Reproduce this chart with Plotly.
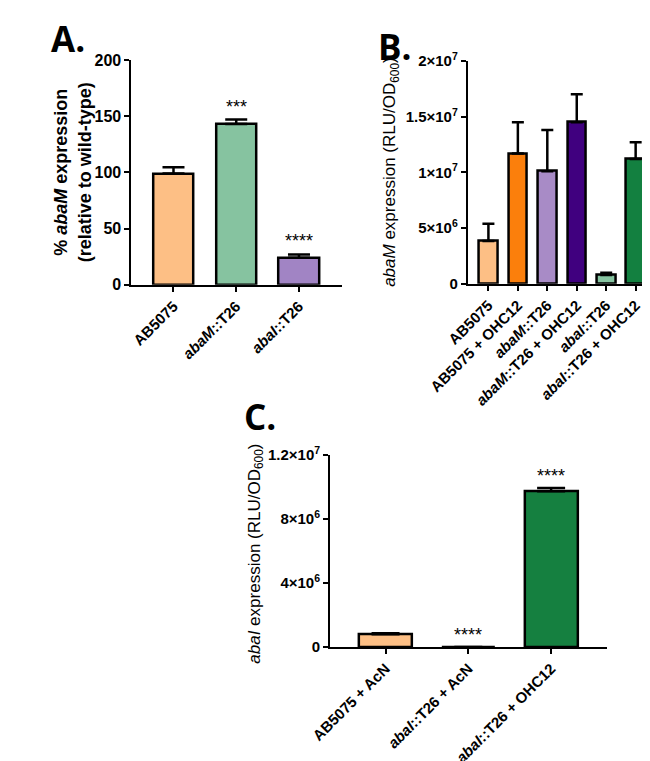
import plotly.graph_objects as go

# ---------------- data ----------------
a_categories = ["AB5075", "abaM::T26", "abaI::T26"]
a_labels = ["AB5075", "<i>abaM</i>::T26", "<i>abaI</i>::T26"]
a_values = [99, 143, 24]
a_errors = [5.5, 4, 3]
a_sig = ["", "***", "****"]
a_colors = ["#FDBF85", "#86C3A0", "#A184C4"]
a_yticks = [0, 50, 100, 150, 200]
a_yticktext = ["0", "50", "100", "150", "200"]

b_categories = ["AB5075", "AB5075 + OHC12", "abaM::T26", "abaM::T26 + OHC12",
                "abaI::T26", "abaI::T26 + OHC12"]
b_labels = ["AB5075", "AB5075 + OHC12", "<i>abaM</i>::T26", "<i>abaM</i>::T26 + OHC12",
            "<i>abaI</i>::T26", "<i>abaI</i>::T26 + OHC12"]
b_values = [3.85e6, 11.7e6, 10.1e6, 14.5e6, 0.8e6, 11.2e6]
b_errors = [1.55e6, 2.8e6, 3.7e6, 2.5e6, 0.2e6, 1.5e6]
b_colors = ["#FDBF85", "#FB7F0C", "#A88BC6", "#40007F", "#86C3A0", "#138040"]
b_yticks = [0, 5e6, 1e7, 1.5e7, 2e7]
b_yticktext = ["0", "5×10<sup>6</sup>", "1×10<sup>7</sup>", "1.5×10<sup>7</sup>", "2×10<sup>7</sup>"]

c_categories = ["AB5075 + AcN", "abaI::T26 + AcN", "abaI::T26 + OHC12"]
c_labels = ["AB5075 + AcN", "<i>abaI</i>::T26 + AcN", "<i>abaI</i>::T26 + OHC12"]
c_values = [0.8e6, 0.005e6, 9.75e6]
c_errors = [0.07e6, 0.0, 0.2e6]
c_sig = ["", "****", "****"]
c_colors = ["#FDBF85", "#FDBF85", "#158040"]
c_yticks = [0, 4e6, 8e6, 1.2e7]
c_yticktext = ["0", "4×10<sup>6</sup>", "8×10<sup>6</sup>", "1.2×10<sup>7</sup>"]

W, H = 650, 761
FONT = "Liberation Sans, Arial, sans-serif"


def px_x(p):
    return p / W


def px_y(p):
    return 1 - p / H


fig = go.Figure()


def add_bars(cats, vals, errs, cols, xa, ya, capw):
    fig.add_trace(go.Bar(
        x=cats, y=vals, width=0.64,
        marker=dict(color=cols, line=dict(color="black", width=2.5)),
        error_y=dict(type="data", symmetric=False, array=errs,
                     arrayminus=[0] * len(errs), color="black",
                     thickness=2.5, width=capw),
        xaxis=xa, yaxis=ya, showlegend=False,
    ))


add_bars(a_categories, a_values, a_errors, a_colors, "x", "y", 11)
add_bars(b_categories, b_values, b_errors, b_colors, "x2", "y2", 6)
add_bars(c_categories, c_values, c_errors, c_colors, "x3", "y3", 14)

axis_common = dict(showline=True, linecolor="black", linewidth=2, ticks="outside",
                   tickcolor="black", tickwidth=2, ticklen=5, showgrid=False,
                   zeroline=False, tickmode="array")


def xaxis(cats, labels, dom, rng, anchor):
    return dict(axis_common, domain=dom, range=rng, anchor=anchor,
                type="category", tickvals=cats, ticktext=labels, tickangle=-45,
                tickfont=dict(family=FONT, size=15, color="black", weight="bold"))


def yaxis(ticks, text, dom, rng, anchor, size):
    return dict(axis_common, domain=dom, range=rng, anchor=anchor,
                tickvals=ticks, ticktext=text,
                tickfont=dict(family=FONT, size=size, color="black", weight="bold"))


fig.update_layout(
    width=W, height=H,
    margin=dict(l=0, r=0, t=0, b=0),
    paper_bgcolor="white", plot_bgcolor="white",
    bargap=0,
    xaxis=xaxis(a_categories, a_labels, [px_x(88), px_x(313)], [-0.67, 2.69], "y"),
    yaxis=yaxis(a_yticks, a_yticktext, [px_y(273), px_y(42)], [0, 200], "x", 16),
    xaxis2=xaxis(b_categories, b_labels, [px_x(447), px_x(645)], [-0.70, 5.6], "y2"),
    yaxis2=yaxis(b_yticks, b_yticktext, [px_y(272), px_y(43)], [0, 2e7], "x2", 15),
    xaxis3=xaxis(c_categories, c_labels, [px_x(300), px_x(596)], [-0.67, 2.68], "y3"),
    yaxis3=yaxis(c_yticks, c_yticktext, [px_y(645), px_y(448)], [0, 1.2e7], "x3", 15),
)

ann = []
# significance stars
for cat, v, e, s in zip(a_categories, a_values, a_errors, a_sig):
    if s:
        ann.append(dict(x=cat, y=v + e, xref="x", yref="y", text=s, showarrow=False,
                        yanchor="bottom", yshift=1,
                        font=dict(family=FONT, size=18, color="black")))
for cat, v, e, s in zip(c_categories, c_values, c_errors, c_sig):
    if s:
        ann.append(dict(x=cat, y=v + e, xref="x3", yref="y3", text=s, showarrow=False,
                        yanchor="bottom", yshift=0,
                        font=dict(family=FONT, size=18, color="black")))

# axis titles
ann.append(dict(x=px_x(26), y=px_y(157), xref="paper", yref="paper",
                text="<b>% <i>abaM</i> expression<br>(relative to wild-type)</b>",
                textangle=-90, showarrow=False, xanchor="center", yanchor="middle",
                font=dict(family=FONT, size=18, color="black")))
ann.append(dict(x=px_x(365), y=px_y(157), xref="paper", yref="paper",
                text="<i>abaM</i> expression (RLU/OD<sub>600</sub>)",
                textangle=-90, showarrow=False, xanchor="center", yanchor="middle",
                font=dict(family=FONT, size=17, color="black")))
ann.append(dict(x=px_x(220), y=px_y(549), xref="paper", yref="paper",
                text="<i>abaI</i> expression (RLU/OD<sub>600</sub>)",
                textangle=-90, showarrow=False, xanchor="center", yanchor="middle",
                font=dict(family=FONT, size=17, color="black")))

# panel letters
for letter, lx, ly in [("A.", 0, 20), ("B.", 349, 28), ("C.", 206, 408)]:
    ann.append(dict(x=px_x(lx), y=px_y(ly), xref="paper", yref="paper", text=letter,
                    showarrow=False, xanchor="left", yanchor="middle",
                    font=dict(family="Open Sans, sans-serif", size=35, color="black",
                              weight="bold")))

fig.update_layout(annotations=ann)
fig.write_html("out.html")
